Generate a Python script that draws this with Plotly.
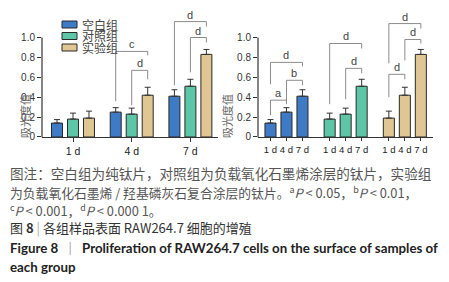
import plotly.graph_objects as go

# ---------------- data ----------------
days = ["1 d", "4 d", "7 d"]
groups = ["空白组", "对照组", "实验组"]
blank_mean = [0.14, 0.25, 0.41]
blank_err = [0.035, 0.045, 0.065]
control_mean = [0.18, 0.23, 0.51]
control_err = [0.06, 0.06, 0.07]
exp_mean = [0.19, 0.42, 0.83]
exp_err = [0.07, 0.08, 0.05]
means = [blank_mean, control_mean, exp_mean]
errs = [blank_err, control_err, exp_err]
colors = ["#3F7AC6", "#5CC6A6", "#DFC693"]
y_ticks = [0, 0.2, 0.4, 0.6, 0.8, 1.0]
y_ticktext = ["0", "0.2", "0.4", "0.6", "0.8", "1.0"]
y_title = "吸光度值"

# significance brackets, left chart: (day, group_a, group_b, top, leg_a, leg_b, label)
left_sig = [
    (1, 0, 2, 0.86, 0.36, 0.82, "c"),
    (1, 1, 2, 0.67, 0.32, 0.58, "d"),
    (2, 0, 2, 1.16, 0.52, 1.11, "d"),
    (2, 1, 2, 1.00, 0.65, 0.95, "d"),
]
# right chart: (group, day_a, day_b, top, leg_a, leg_b, label)
right_sig = [
    (0, 0, 1, 0.37, 0.22, 0.33, "a"),
    (0, 1, 2, 0.57, 0.35, 0.52, "b"),
    (0, 0, 2, 0.75, 0.53, 0.71, "d"),
    (1, 0, 2, 0.94, 0.33, 0.89, "d"),
    (1, 1, 2, 0.69, 0.38, 0.64, "d"),
    (2, 0, 2, 1.14, 0.74, 1.09, "d"),
    (2, 1, 2, 0.98, 0.77, 0.94, "d"),
    (2, 0, 1, 0.63, 0.40, 0.58, "d"),
]

# ---------------- layout helpers ----------------
W, H = 449, 282
def px(x): return x / W
def py(y): return 1 - y / H

YMAX = 1.25
UNIT = 99.5
y0_px = 137
axis_col = "#333333"
br_col = "#8c8c8c"

# left chart geometry (category units)
L_slot = 16 / 58.75
L_w = 11 / 58.75
# right chart geometry (bar-step units)
R_gstep = 3.7
R_w = 0.69

fig = go.Figure()

# left grouped bars
for gi in range(3):
    off = (gi - 1) * L_slot - L_w / 2
    fig.add_trace(go.Bar(
        x=days, y=means[gi], name=groups[gi], width=L_w, offset=off,
        marker=dict(color=colors[gi], line=dict(color="#2a2a2a", width=1)),
        error_y=dict(type="data", array=errs[gi], arrayminus=[0, 0, 0], symmetric=False,
                     color="#333", thickness=1, width=3),
        xaxis="x", yaxis="y", showlegend=False))

# right bars: grouped by sample group, days within
right_pos = []
for gi in range(3):
    xs = [gi * R_gstep + d for d in range(3)]
    right_pos.append(xs)
    fig.add_trace(go.Bar(
        x=xs, y=means[gi], name=groups[gi], width=R_w, offset=-R_w / 2,
        marker=dict(color=colors[gi], line=dict(color="#2a2a2a", width=1)),
        error_y=dict(type="data", array=errs[gi], arrayminus=[0, 0, 0], symmetric=False,
                     color="#333", thickness=1, width=3),
        xaxis="x2", yaxis="y2", showlegend=False))

shapes = []
annotations = []

def bracket(xref, yref, xa, xb, top, la, lb, label):
    line = dict(color=br_col, width=1)
    shapes.append(dict(type="line", xref=xref, yref=yref, x0=xa, x1=xa, y0=la, y1=top, line=line))
    shapes.append(dict(type="line", xref=xref, yref=yref, x0=xa, x1=xb, y0=top, y1=top, line=line))
    shapes.append(dict(type="line", xref=xref, yref=yref, x0=xb, x1=xb, y0=lb, y1=top, line=line))
    annotations.append(dict(xref=xref, yref=yref, x=(xa + xb) / 2, y=top, text=label,
                            showarrow=False, yanchor="bottom", yshift=-1,
                            font=dict(family="Liberation Sans", size=11, color="#444")))

for d, ga, gb, top, la, lb, lab in left_sig:
    xa = d + (ga - 1) * L_slot
    xb = d + (gb - 1) * L_slot
    bracket("x", "y", xa, xb, top, la, lb, lab)

for g, da, db, top, la, lb, lab in right_sig:
    bracket("x2", "y2", right_pos[g][da], right_pos[g][db], top, la, lb, lab)

# y axis lines (only 0..1.0)
for xr, yr, xp in [("paper", "y", px(42)), ("paper", "y2", px(258))]:
    shapes.append(dict(type="line", xref=xr, yref=yr, x0=xp, x1=xp, y0=0, y1=1.0,
                       line=dict(color=axis_col, width=1.2)))

# y titles
for xp in [15, 227]:
    annotations.append(dict(xref="paper", yref="paper", x=px(xp), y=py(92), text=y_title,
                            textangle=-90, showarrow=False,
                            font=dict(family="Noto Sans CJK SC", size=11, color="#666")))

# manual legend
leg_y = [24.5, 36, 47.5]
for gi in range(3):
    shapes.append(dict(type="rect", xref="paper", yref="paper",
                       x0=px(62), x1=px(77), y0=py(leg_y[gi] + 3.5), y1=py(leg_y[gi] - 3.5),
                       fillcolor=colors[gi], line=dict(color="#2a2a2a", width=1)))
    annotations.append(dict(xref="paper", yref="paper", x=px(80), y=py(leg_y[gi]),
                            text=groups[gi], showarrow=False, xanchor="left", yanchor="middle",
                            font=dict(family="Noto Sans CJK SC", size=12, color="#444")))

# caption
cap_font = "Noto Sans CJK SC"
captions = [
    (173, "图注：空白组为纯钛片，对照组为负载氧化石墨烯涂层的钛片，实验组", 13.6, "#555"),
    (192, "为负载氧化石墨烯 / 羟基磷灰石复合涂层的钛片。<sup>a</sup><i>P</i> < 0.05，<sup>b</sup><i>P</i> < 0.01，", 12.8, "#555"),
    (210, "<sup>c</sup><i>P</i> < 0.001，<sup>d</sup><i>P</i> < 0.000 1。", 12.8, "#555"),
    (228, "图 <b>8</b> <span style='color:#aaa'>|</span> 各组样品表面 RAW264.7 细胞的增殖", 13.0, "#333"),
]
for yy, txt, fs, col in captions:
    annotations.append(dict(xref="paper", yref="paper", x=px(8), y=py(yy), text=txt,
                            showarrow=False, xanchor="left", yanchor="middle",
                            font=dict(family=cap_font, size=fs, color=col)))
for yy, txt in [(248, "<b>Figure 8</b>   <span style='color:#aaa'>|</span>   <b>Proliferation of RAW264.7 cells on the surface of samples of</b>"),
                (267, "<b>each group</b>")]:
    annotations.append(dict(xref="paper", yref="paper", x=px(8), y=py(yy), text=txt,
                            showarrow=False, xanchor="left", yanchor="middle",
                            font=dict(family="Lato", size=13.3, color="#222")))

tickfont = dict(family="Liberation Sans", size=10, color="#333")
common_y = dict(range=[0, YMAX], tickvals=y_ticks, ticktext=y_ticktext, ticks="outside",
                ticklen=4, tickcolor=axis_col, showline=False, showgrid=False, zeroline=False,
                tickfont=tickfont, automargin=False)

flat_right = [p for g in right_pos for p in g]
fig.update_layout(
    width=W, height=H, margin=dict(l=0, r=0, t=0, b=0, pad=0, autoexpand=False),
    paper_bgcolor="white", plot_bgcolor="white",
    showlegend=False,
    xaxis=dict(domain=[px(42), px(218)], range=[-0.528, 2.47], type="category",
               showline=True, linecolor=axis_col, linewidth=1.2, ticks="outside", ticklen=4,
               tickcolor=axis_col, tickfont=dict(family="Liberation Sans", size=10.5, color="#222"),
               showgrid=False, zeroline=False, anchor="y", automargin=False, tickangle=0),
    yaxis=dict(domain=[py(y0_px), py(y0_px - YMAX * UNIT)], anchor="x", **common_y),
    xaxis2=dict(domain=[px(258), px(433)], range=[-0.78, 10.16],
                tickvals=flat_right, ticktext=days * 3, tickangle=0,
                showline=True, linecolor=axis_col, linewidth=1.2, ticks="outside", ticklen=3,
                tickcolor=axis_col, tickfont=dict(family="Liberation Sans", size=9.5, color="#222"),
                showgrid=False, zeroline=False, anchor="y2", automargin=False),
    yaxis2=dict(domain=[py(y0_px), py(y0_px - YMAX * UNIT)], anchor="x2", **common_y),
    shapes=shapes, annotations=annotations,
)

fig.write_html("out.html", config={"displayModeBar": False},
               post_script="document.body.style.margin='0';document.body.style.padding='0';")
